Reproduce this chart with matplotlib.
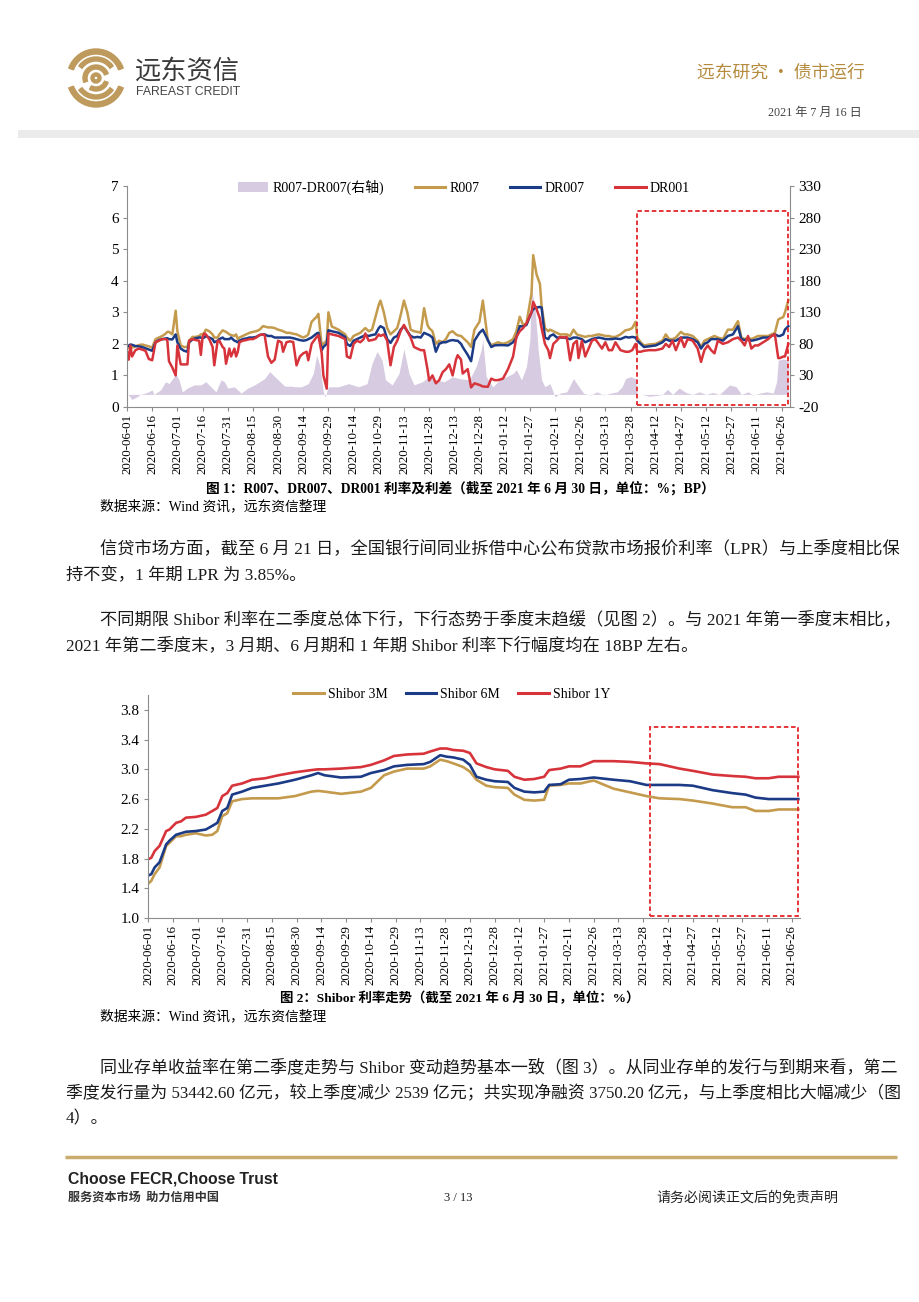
import numpy as np
import pandas as pd
import matplotlib
matplotlib.use('Agg')
import matplotlib.pyplot as plt
import matplotlib.dates as mdates
from matplotlib.patches import Rectangle, Wedge, Patch
from matplotlib.lines import Line2D
from matplotlib.ticker import FormatStrFormatter

plt.rcParams['font.family'] = ['Liberation Serif', 'Noto Sans CJK SC']
plt.rcParams['axes.unicode_minus'] = False

# ---------------- data ----------------
base_date = np.datetime64('2020-06-01')

# chart 1: day offsets from 2020-06-01
rate_day = [0, 1, 2, 3, 5, 7, 9, 11, 13, 15, 17, 19, 21, 23, 24,
            25, 27, 29, 30, 32, 34, 36, 37, 39, 41, 43, 44, 45, 46, 47,
            49, 51, 52, 54, 55, 57, 58, 59, 61, 62, 64, 65, 66, 67, 69, 71, 73,
            75, 77, 79, 81, 82, 84, 86, 88, 90, 92, 93, 95, 97, 99,
            101, 103, 105, 107, 108, 110, 113, 114, 116, 117, 119, 120, 122, 126,
            130, 131, 133, 135, 137, 139, 141, 142, 144, 146, 148, 150, 151, 153,
            155, 157, 159, 161, 163, 165, 167, 169, 171, 173, 175, 177, 179, 180, 182,
            184, 186, 188, 190, 192, 194, 196, 197, 199, 200, 203, 205, 207, 210, 212,
            215, 217, 219, 221, 224, 227, 230, 232, 234, 236, 238, 241, 242, 244, 246, 247,
            249, 251, 252, 254, 256, 258, 260, 262, 264, 266, 268, 269, 271, 273, 275,
            277, 279, 281, 283, 285, 287, 289, 291, 294, 297, 299, 301, 303,
            304, 306, 308, 311, 315, 319, 321, 323, 325, 327, 330, 332, 334, 337,
            340, 342, 344, 346, 348, 350, 352, 355, 358, 361, 364, 366,
            368, 370, 372, 374, 376, 379, 382, 384, 386, 388, 389, 391, 392, 394]

r007 = [1.98, 1.88, 1.85, 1.88, 1.92, 1.96, 1.98, 1.95, 1.92, 1.88, 2.15, 2.20, 2.25, 2.32, 2.38,
        2.38, 2.30, 3.05, 2.40, 1.95, 1.90, 1.90, 2.10, 2.22, 2.22, 2.25, 2.30, 2.30, 2.35, 2.45,
        2.40, 2.30, 2.20, 2.20, 2.30, 2.43, 2.40, 2.38, 2.30, 2.28, 2.25, 2.30, 2.15, 2.20, 2.25, 2.30, 2.35,
        2.38, 2.40, 2.45, 2.56, 2.55, 2.52, 2.52, 2.50, 2.45, 2.42, 2.40, 2.35, 2.35, 2.32,
        2.30, 2.25, 2.20, 2.25, 2.30, 2.70, 2.86, 2.95, 1.96, 2.00, 2.10, 3.00, 2.55, 2.45,
        2.30, 2.20, 2.10, 2.25, 2.30, 2.35, 2.45, 2.50, 2.40, 2.45, 2.85, 3.24, 3.37, 3.00,
        2.50, 2.30, 2.40, 2.50, 2.90, 3.37, 3.00, 2.45, 2.40, 2.38, 2.35, 3.13, 2.60, 2.50, 2.40,
        2.00, 2.10, 2.05, 2.15, 2.35, 2.40, 2.30, 2.27, 2.25, 2.20, 2.05, 1.90, 2.45, 2.70, 3.37,
        2.10, 1.96, 2.00, 2.05, 2.00, 2.05, 2.15, 2.40, 2.86, 2.60, 2.65, 3.60, 4.81, 4.20, 3.90, 3.20,
        2.50, 2.40, 2.45, 2.40, 2.35, 2.30, 2.30, 2.30, 2.25, 2.45, 2.30, 2.28, 2.25, 2.22, 2.25,
        2.25, 2.28, 2.30, 2.28, 2.25, 2.25, 2.22, 2.22, 2.30, 2.43, 2.45, 2.50, 2.70,
        2.20, 2.05, 1.95, 1.98, 2.00, 2.10, 2.30, 2.15, 2.15, 2.20, 2.38, 2.30, 2.30, 2.25,
        2.10, 1.90, 2.10, 2.15, 2.20, 2.25, 2.20, 2.15, 2.45, 2.45, 2.72, 2.20,
        2.15, 2.20, 2.15, 2.20, 2.25, 2.25, 2.25, 2.30, 2.35, 2.77, 2.80, 2.85, 3.00, 3.38]

dr007 = [1.96, 1.93, 1.98, 1.97, 1.93, 1.92, 1.90, 1.86, 1.82, 1.78, 2.05, 2.12, 2.15, 2.17, 2.18,
         2.15, 2.14, 2.30, 2.05, 1.85, 1.78, 1.75, 2.05, 2.14, 2.18, 2.20, 2.20, 2.18, 2.20, 2.25,
         2.20, 2.15, 2.05, 2.10, 2.15, 2.20, 2.15, 2.15, 2.15, 2.20, 2.10, 2.08, 2.05, 2.10, 2.15, 2.17, 2.20,
         2.20, 2.22, 2.28, 2.30, 2.30, 2.25, 2.25, 2.20, 2.20, 2.20, 2.20, 2.20, 2.20, 2.18,
         2.15, 2.12, 2.10, 2.12, 2.15, 2.20, 2.33, 2.35, 1.80, 1.90, 2.00, 2.43, 2.40, 2.35,
         2.22, 2.00, 1.93, 2.10, 2.15, 2.20, 2.25, 2.28, 2.25, 2.28, 2.30, 2.50, 2.56, 2.50,
         2.15, 2.03, 2.20, 2.25, 2.45, 2.56, 2.40, 2.25, 2.20, 2.22, 2.20, 2.35, 2.30, 2.28, 2.20,
         1.75, 2.00, 2.05, 2.05, 2.10, 2.12, 2.10, 2.10, 2.00, 1.90, 1.65, 1.45, 2.10, 2.35, 2.45,
         2.12, 1.90, 1.95, 1.96, 1.96, 1.95, 2.05, 2.20, 2.56, 2.55, 2.60, 3.00, 3.10, 3.15, 3.17, 3.15,
         2.20, 2.15, 2.25, 2.30, 2.20, 2.20, 2.20, 2.18, 2.15, 2.20, 2.20, 2.18, 2.15, 2.05, 2.10,
         2.15, 2.18, 2.20, 2.18, 2.15, 2.15, 2.15, 2.17, 2.15, 2.22, 2.20, 2.22, 2.20,
         2.10, 2.00, 1.90, 1.92, 1.95, 2.05, 2.15, 2.10, 2.10, 2.10, 2.20, 2.20, 2.20, 2.15,
         2.05, 1.85, 2.00, 2.05, 2.15, 2.15, 2.15, 2.10, 2.25, 2.30, 2.56, 2.15,
         2.12, 2.15, 2.10, 2.12, 2.15, 2.20, 2.20, 2.25, 2.30, 2.25, 2.25, 2.30, 2.45, 2.56]

dr001 = [1.75, 1.50, 1.95, 1.60, 1.80, 1.85, 1.82, 1.78, 1.52, 1.48, 2.05, 2.10, 2.15, 2.15, 2.12,
         1.45, 1.25, 1.00, 1.95, 1.35, 1.35, 1.35, 2.10, 2.15, 2.12, 2.10, 1.65, 2.20, 2.33, 2.30,
         2.15, 1.90, 1.32, 2.10, 2.10, 1.90, 1.85, 1.37, 1.85, 1.60, 1.85, 1.60, 1.75, 2.05, 2.10, 2.12, 2.15,
         2.15, 2.20, 2.28, 2.30, 2.28, 1.60, 1.40, 1.50, 2.10, 2.05, 1.75, 2.05, 2.08, 2.06,
         1.32, 1.60, 1.70, 1.75, 1.48, 2.00, 2.22, 2.28, 1.70, 1.00, 0.58, 2.33, 2.30, 2.25,
         2.15, 1.60, 1.55, 2.00, 2.10, 2.05, 2.15, 2.33, 2.10, 2.12, 2.15, 2.30, 2.25, 2.30,
         2.10, 1.32, 1.90, 2.10, 2.40, 2.60, 2.40, 2.20, 1.90, 1.85, 1.80, 1.80, 1.20, 0.84, 1.00,
         0.75, 0.85, 1.10, 1.20, 1.35, 1.00, 1.50, 1.64, 1.50, 1.06, 1.20, 0.62, 0.75, 0.70, 0.65,
         0.64, 0.90, 0.85, 0.85, 0.90, 1.20, 1.60, 2.22, 2.40, 2.50, 2.65, 3.00, 3.33, 3.10, 2.80, 2.50,
         2.00, 1.80, 1.55, 2.00, 2.10, 2.22, 2.20, 2.22, 1.48, 2.00, 2.10, 1.55, 2.10, 1.60, 1.85,
         2.10, 2.15, 2.00, 1.85, 2.05, 1.80, 1.80, 2.05, 1.80, 1.75, 1.75, 1.80, 2.00,
         1.75, 1.75, 1.78, 1.80, 1.80, 1.85, 2.00, 1.90, 2.10, 1.80, 2.20, 1.90, 2.15, 2.10,
         1.85, 1.43, 1.80, 1.95, 1.80, 1.70, 2.10, 2.00, 2.05, 2.15, 2.20, 2.10,
         1.95, 2.25, 1.85, 1.95, 1.95, 2.05, 2.15, 2.25, 2.30, 1.55, 1.55, 1.60, 1.60, 2.00]

# R007-DR007 spread (BP, right axis)
spread_day = [0, 3, 6, 8, 12, 15, 16, 20, 23, 25, 28, 29, 31, 33, 36,
              40, 44, 47, 50, 53, 56, 58, 60, 64, 68, 72, 76, 82, 85, 90,
              94, 98, 100, 104, 108, 111, 113, 115, 117, 118, 120, 126, 132, 138, 143,
              146, 149, 152, 154, 158, 162, 165, 168, 171, 176, 180, 184, 189, 194, 198,
              204, 208, 211, 212, 214, 218, 222, 226, 230, 232, 235, 238, 240, 241, 243,
              245, 247, 249, 252, 255, 258, 262, 266, 268, 272, 276, 280, 284, 288, 292,
              295, 297, 300, 303, 304, 307, 311, 315, 319, 322, 325, 329, 333, 337, 341,
              345, 349, 353, 359, 363, 366, 370, 373, 377, 381, 385, 387, 388, 391, 394]
spread_bp = [2, -8, -4, 0, 3, 7, 0, 7, 20, 17, 28, 33, 23, 4, 10,
             15, 15, 20, 12, 4, 23, 20, 10, 12, 2, 10, 15, 25, 36, 23,
             13, 13, 12, 12, 17, 33, 62, 44, 4, -4, 12, 12, 17, 12, 17,
             49, 68, 54, 23, 15, 33, 72, 33, 15, 20, 28, 23, 20, 28, 25,
             23, 44, 70, 86, 28, 12, 23, 28, 33, 39, 23, 44, 86, 166, 139,
             70, 23, 12, 17, -4, 2, 4, 25, 17, 2, -1, 4, -1, 2, 4,
             12, 25, 28, 25, 0, 0, -3, -2, 0, 8, 0, 10, 3, 0, 4,
             0, 3, 0, 15, 12, 0, 4, -1, 2, 4, 2, 20, 54, 56, 54]

# chart 2: Shibor
shibor_day = [0, 2, 4, 7, 11, 13, 17, 20, 23, 29, 35, 39, 42, 45, 48, 51, 57, 63, 71, 79,
              89, 99, 103, 107, 117, 129, 135, 143, 149, 157, 167, 171, 177, 181, 185, 191, 195, 199, 205, 210,
              218, 222, 228, 234, 240, 243, 250, 255, 262, 270, 282, 292, 302, 310, 322, 330, 342, 354, 362, 368,
              376, 382, 394]
shibor_1y = [1.79, 1.81, 1.90, 1.97, 2.17, 2.19, 2.28, 2.30, 2.35, 2.36, 2.39, 2.44, 2.48, 2.64, 2.68, 2.78, 2.81, 2.86, 2.88, 2.92,
             2.96, 2.99, 3.00, 3.00, 3.01, 3.03, 3.06, 3.12, 3.18, 3.20, 3.21, 3.24, 3.28, 3.28, 3.26, 3.25, 3.22, 3.08, 3.03, 3.00,
             2.98, 2.90, 2.86, 2.87, 2.90, 2.99, 3.01, 3.04, 3.04, 3.11, 3.11, 3.10, 3.08, 3.07, 3.01, 2.98, 2.93, 2.91, 2.90, 2.88,
             2.88, 2.90, 2.90]
shibor_6m = [1.57, 1.59, 1.68, 1.75, 1.99, 2.04, 2.12, 2.14, 2.16, 2.17, 2.19, 2.24, 2.28, 2.44, 2.48, 2.66, 2.70, 2.75, 2.78, 2.81,
             2.86, 2.92, 2.95, 2.92, 2.89, 2.90, 2.95, 2.99, 3.04, 3.06, 3.07, 3.10, 3.19, 3.17, 3.16, 3.13, 3.06, 2.90, 2.86, 2.84,
             2.83, 2.75, 2.70, 2.69, 2.70, 2.79, 2.80, 2.86, 2.87, 2.89, 2.86, 2.84, 2.79, 2.79, 2.79, 2.78, 2.72, 2.68, 2.66, 2.62,
             2.60, 2.60, 2.60]
shibor_3m = [1.46, 1.50, 1.59, 1.68, 1.97, 2.01, 2.10, 2.10, 2.12, 2.14, 2.11, 2.12, 2.17, 2.37, 2.41, 2.57, 2.60, 2.61, 2.61, 2.61,
             2.64, 2.70, 2.71, 2.70, 2.67, 2.70, 2.75, 2.92, 2.97, 3.01, 3.01, 3.04, 3.13, 3.11, 3.08, 3.03, 2.97, 2.86, 2.78, 2.76,
             2.75, 2.66, 2.59, 2.58, 2.59, 2.78, 2.79, 2.81, 2.81, 2.85, 2.74, 2.69, 2.64, 2.61, 2.60, 2.58, 2.54, 2.49, 2.49, 2.44,
             2.44, 2.46, 2.46]

tick_dates = pd.date_range('2020-06-01', '2021-06-26', freq='15D')
highlight_start, highlight_end = '2021-04-01', '2021-06-30'
legend1 = ['R007-DR007(右轴)', 'R007', 'DR007', 'DR001']
legend2 = ['Shibor 3M', 'Shibor 6M', 'Shibor 1Y']

# ---------------- style ----------------
GOLD = '#C49A4C'
NAVY = '#1C3B87'
RED = '#D7333B'
LAV = '#D6CBE0'
AXC = '#8C8C8C'
BOXC = '#E3262B'
W, H = 920, 1302

def to_dates(days):
    return base_date + np.asarray(days).astype('timedelta64[D]')

fig = plt.figure(figsize=(W / 100, H / 100), dpi=100)
bg = fig.add_axes([0, 0, 1, 1])
bg.set_xlim(0, W)
bg.set_ylim(H, 0)
bg.axis('off')
renderer = fig.canvas.get_renderer()


def put(x, y, s, size, width=None, **kw):
    t = bg.text(x, y, s, fontsize=size, **kw)
    if width:
        w = t.get_window_extent(renderer).width
        size = size * width / w
        t.set_fontsize(size)
    return size

# ---------------- header ----------------
LOGO = '#BE9A5C'
cx, cy = 96, 78
bg.add_patch(Wedge((cx, cy), 29, 20, 160, width=5, color=LOGO))
bg.add_patch(Wedge((cx, cy), 29, 200, 340, width=5, color=LOGO))
bg.add_patch(Wedge((cx, cy), 21, 35, 145, width=4, color=LOGO))
bg.add_patch(Wedge((cx, cy), 21, 215, 325, width=4, color=LOGO))
bg.add_patch(Wedge((cx, cy), 13, 160, 340, width=4, color=LOGO))
bg.add_patch(Wedge((cx, cy), 13, 20, 120, width=4, color=LOGO))
bg.add_patch(Wedge((cx, cy), 5, 0, 360, width=3, color=LOGO))
put(135, 71, '远东资信', 19, width=105, ha='left', va='center',
    family=['Noto Sans CJK SC'], color='#3A3A3A', weight='medium')
put(136, 92, 'FAREAST CREDIT', 8, width=104, ha='left', va='center',
    family=['Liberation Sans'], color='#444444')
put(865, 73, '远东研究 • 债市运行', 12, width=168, ha='right', va='center',
    family=['Noto Sans CJK SC', 'DejaVu Sans'], color='#B58A3C')
put(862, 113, '2021 年 7 月 16 日', 8.5, width=94, ha='right', va='center', color='#444444')
bg.add_patch(Rectangle((18, 130), 902, 8, color='#EBEBEB', lw=0))

# ---------------- chart 1 ----------------
ax1 = fig.add_axes([127 / W, 1 - 407 / H, 663 / W, 221 / H])
ax1b = ax1.twinx()
ax1b.fill_between(to_dates(spread_day), 0, spread_bp, color=LAV, lw=0)
ax1.plot(to_dates(rate_day), r007, color=GOLD, lw=1.8)
ax1.plot(to_dates(rate_day), dr007, color=NAVY, lw=1.8)
ax1.plot(to_dates(rate_day), dr001, color=RED, lw=1.8)
ax1.set_zorder(ax1b.get_zorder() + 1)
ax1.patch.set_visible(False)
ax1.set_xlim(base_date, base_date + np.timedelta64(395, 'D'))
ax1.set_ylim(0, 7)
ax1.set_yticks(range(0, 8))
ax1b.set_ylim(-20, 330)
ax1b.set_yticks(range(-20, 331, 50))
ax1.set_xticks(tick_dates)
ax1.xaxis.set_major_formatter(mdates.DateFormatter('%Y-%m-%d'))
for lab in ax1.get_xticklabels():
    lab.set_rotation(90)
for s in ['top', 'right']:
    ax1.spines[s].set_visible(False)
for s in ['top', 'left', 'bottom']:
    ax1b.spines[s].set_visible(False)
for a in (ax1, ax1b):
    for s in a.spines.values():
        s.set_color(AXC)
    a.tick_params(axis='both', direction='out', length=3, color=AXC, labelsize=11, pad=3)
ax1.tick_params(axis='x', labelsize=9.3, pad=2)
x0 = mdates.date2num(np.datetime64(highlight_start))
x1 = mdates.date2num(np.datetime64(highlight_end))
ax1.add_patch(Rectangle((x0, 0.06), x1 - x0, 6.14, fill=False, ec=BOXC, lw=1.3,
                        ls=(0, (2.5, 1.5)), clip_on=False, zorder=6))
h1 = [Patch(facecolor=LAV, edgecolor='none'),
      Line2D([], [], color=GOLD, lw=2.2), Line2D([], [], color=NAVY, lw=2.2),
      Line2D([], [], color=RED, lw=2.2)]
ax1.legend(h1, legend1, ncol=4, loc='center', bbox_to_anchor=(0.508, 0.995), frameon=False,
           fontsize=10, handlelength=2.2, handletextpad=0.3, columnspacing=2.2,
           borderaxespad=0, borderpad=0)

put(460, 488, '图 1：R007、DR007、DR001 利率及利差（截至 2021 年 6 月 30 日，单位：%；BP）', 9.5,
    width=514, ha='center', va='center', weight='bold')
put(100, 506, '数据来源：Wind 资讯，远东资信整理', 9, width=227, ha='left', va='center')

# ---------------- body text ----------------
TXT = '#1A1A1A'
s = put(100, 549, '信贷市场方面，截至 6 月 21 日，全国银行间同业拆借中心公布贷款市场报价利率（LPR）与上季度相比保',
        11, width=798, ha='left', va='center', color=TXT)
put(66, 576, '持不变，1 年期 LPR 为 3.85%。', s, ha='left', va='center', color=TXT)
s = put(100, 620, '不同期限 Shibor 利率在二季度总体下行，下行态势于季度末趋缓（见图 2）。与 2021 年第一季度末相比，',
        11, width=798, ha='left', va='center', color=TXT)
put(66, 646, '2021 年第二季度末，3 月期、6 月期和 1 年期 Shibor 利率下行幅度均在 18BP 左右。', s,
    ha='left', va='center', color=TXT)
s = put(100, 1068, '同业存单收益率在第二季度走势与 Shibor 变动趋势基本一致（图 3）。从同业存单的发行与到期来看，第二',
        11, width=798, ha='left', va='center', color=TXT)
put(66, 1094, '季度发行量为 53442.60 亿元，较上季度减少 2539 亿元；共实现净融资 3750.20 亿元，与上季度相比大幅减少（图',
    11, width=832, ha='left', va='center', color=TXT)
put(66, 1119, '4）。', s, ha='left', va='center', color=TXT)

# ---------------- chart 2 ----------------
ax2 = fig.add_axes([148 / W, 1 - 918 / H, 652 / W, 223 / H])
ax2.plot(to_dates(shibor_day), shibor_3m, color=GOLD, lw=1.9)
ax2.plot(to_dates(shibor_day), shibor_6m, color=NAVY, lw=1.9)
ax2.plot(to_dates(shibor_day), shibor_1y, color=RED, lw=1.9)
ax2.set_xlim(base_date, base_date + np.timedelta64(395, 'D'))
ax2.set_ylim(1.0, 4.0)
ax2.set_yticks(np.arange(1.0, 3.81, 0.4))
ax2.yaxis.set_major_formatter(FormatStrFormatter('%.1f'))
ax2.set_xticks(tick_dates)
ax2.xaxis.set_major_formatter(mdates.DateFormatter('%Y-%m-%d'))
for lab in ax2.get_xticklabels():
    lab.set_rotation(90)
for sp in ['top', 'right']:
    ax2.spines[sp].set_visible(False)
for sp in ax2.spines.values():
    sp.set_color(AXC)
ax2.tick_params(axis='both', direction='out', length=3, color=AXC, labelsize=11, pad=3)
ax2.tick_params(axis='x', labelsize=9.3, pad=2)
ax2.add_patch(Rectangle((x0, 1.03), x1 - x0, 2.54, fill=False, ec=BOXC, lw=1.3,
                        ls=(0, (2.5, 1.5)), clip_on=False, zorder=6))
h2 = [Line2D([], [], color=GOLD, lw=2.2), Line2D([], [], color=NAVY, lw=2.2),
      Line2D([], [], color=RED, lw=2.2)]
ax2.legend(h2, legend2, ncol=3, loc='center', bbox_to_anchor=(0.466, 1.004), frameon=False,
           fontsize=10, handlelength=2.2, handletextpad=0.3, columnspacing=1.3,
           borderaxespad=0, borderpad=0)

put(460, 998, '图 2：Shibor 利率走势（截至 2021 年 6 月 30 日，单位：%）', 9.5, width=363,
    ha='center', va='center', weight='bold')
put(100, 1016, '数据来源：Wind 资讯，远东资信整理', 9, width=227, ha='left', va='center')

# ---------------- footer ----------------
bg.plot([65, 897], [1157, 1157], color='#C9AC6E', lw=2.5, solid_capstyle='butt')
put(68, 1179, 'Choose FECR,Choose Trust', 11, width=211, ha='left', va='center',
    family=['Liberation Sans'], weight='bold', color='#222222')
put(68, 1197, '服务资本市场  助力信用中国', 6.5, width=150, ha='left', va='center',
    family=['Noto Sans CJK SC'], weight='bold', color='#333333')
put(458, 1198, '3 / 13', 9, ha='center', va='center', color='#222222')
put(656, 1198, '请务必阅读正文后的免责声明', 9, width=182, ha='left', va='center', color='#222222')

fig.savefig('out.png', dpi=100)
